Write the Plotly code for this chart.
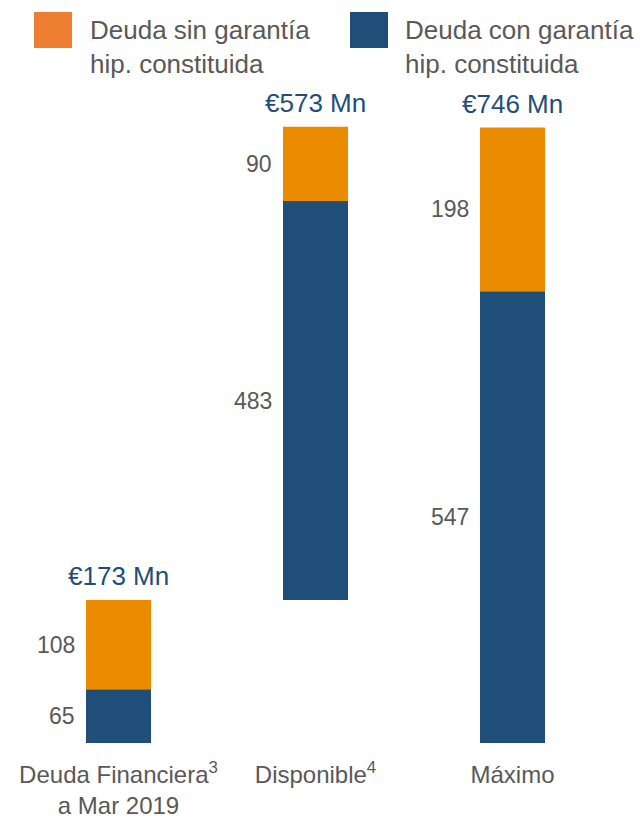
import plotly.graph_objects as go

categories = ["Deuda Financiera<sup>3</sup><br>a Mar 2019", "Disponible<sup>4</sup>", "Máximo"]
con_garantia = [65, 483, 547]
sin_garantia = [108, 90, 198]
bases = [0, 173, 0]
totals = ["€173 Mn", "€573 Mn", "€746 Mn"]
legend_names = ["Deuda sin garantía<br>hip. constituida", "Deuda con garantía<br>hip. constituida"]

BLUE = "#1F4E79"
ORANGE = "#EB8C00"
ORANGE_LEG = "#ED7D31"
GRAY = "#595959"
FONT = "Liberation Sans, Arial, sans-serif"
W = 0.33

xs = list(range(len(categories)))
orange_base = [b + c for b, c in zip(bases, con_garantia)]
tops = [ob + s for ob, s in zip(orange_base, sin_garantia)]

fig = go.Figure()
fig.add_bar(x=xs, y=con_garantia, base=bases, width=W, marker=dict(color=BLUE, line=dict(width=0)),
            name="con", showlegend=False, hoverinfo="skip")
fig.add_bar(x=xs, y=sin_garantia, base=orange_base, width=W, marker=dict(color=ORANGE, line=dict(width=0)),
            name="sin", showlegend=False, hoverinfo="skip")

ann = []
for i in xs:
    ann.append(dict(x=i, y=tops[i], xref="x", yref="y", text=totals[i], showarrow=False,
                    yanchor="bottom", yshift=7, font=dict(size=26, color=BLUE, family=FONT)))
    ann.append(dict(x=i - W / 2, y=bases[i] + con_garantia[i] / 2, xref="x", yref="y",
                    text=str(con_garantia[i]), showarrow=False, xanchor="right", xshift=-9,
                    font=dict(size=23, color=GRAY, family=FONT)))
    ann.append(dict(x=i - W / 2, y=orange_base[i] + sin_garantia[i] / 2, xref="x", yref="y",
                    text=str(sin_garantia[i]), showarrow=False, xanchor="right", xshift=-9,
                    font=dict(size=23, color=GRAY, family=FONT)))

# legend (custom)
PW, PH, PL, PB = 591, 643, 20, 743
shapes = []
leg = [(34, 90, ORANGE_LEG, legend_names[0]), (350, 405, BLUE, legend_names[1])]
for sx, tx, col, txt in leg:
    shapes.append(dict(type="rect", xref="paper", yref="paper",
                       x0=(sx - PL) / PW, x1=(sx + 38 - PL) / PW,
                       y0=(PB - 48) / PH, y1=(PB - 12) / PH,
                       fillcolor=col, line=dict(width=0)))
    ann.append(dict(x=(tx - PL) / PW, y=(PB - 49) / PH, xref="paper", yref="paper",
                    text=txt, showarrow=False, xanchor="left", yanchor="middle", align="left",
                    xshift=-2, yshift=2, font=dict(size=26, color=GRAY, family=FONT)))

fig.update_layout(
    width=642, height=824,
    margin=dict(l=PL, r=642 - PL - PW, t=PB - PH, b=824 - PB),
    paper_bgcolor="white", plot_bgcolor="white",
    barmode="overlay",
    shapes=shapes, annotations=ann,
    xaxis=dict(range=[-0.5, 2.5], tickvals=xs, ticktext=categories, showgrid=False, zeroline=False,
               showline=False, ticks="outside", ticklen=10, tickcolor="white", automargin=False,
               tickfont=dict(size=24, color=GRAY, family=FONT)),
    yaxis=dict(range=[0, 778.4], visible=False, showgrid=False, zeroline=False, automargin=False),
)
fig.write_html("out.html")
